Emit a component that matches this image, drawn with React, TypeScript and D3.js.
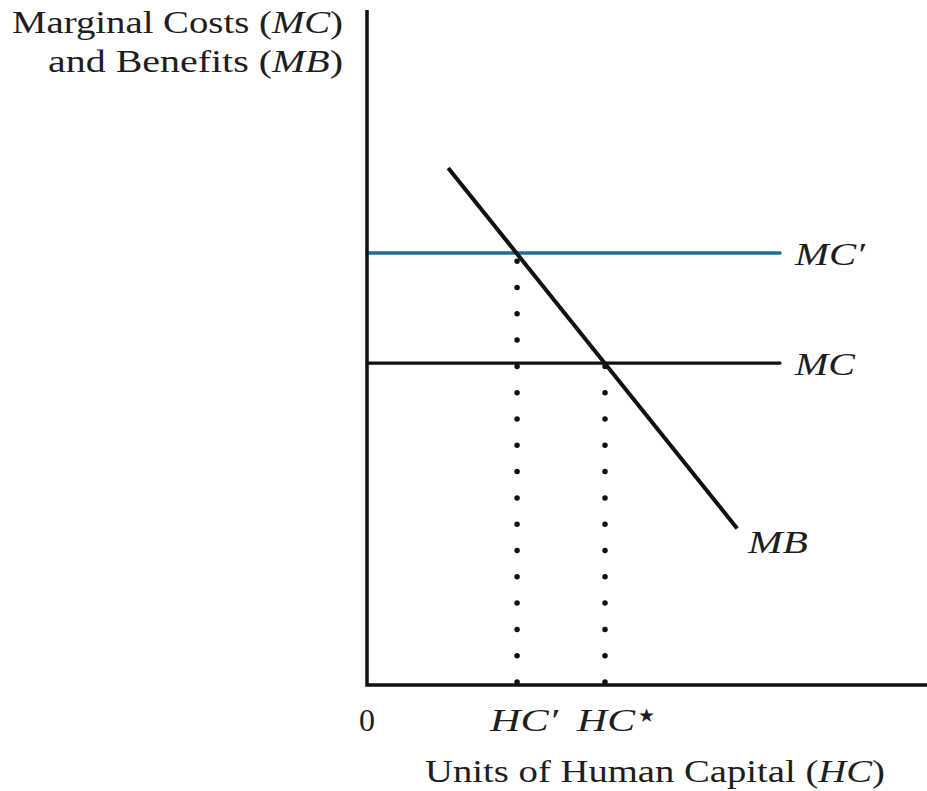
import React from "react";
import * as d3 from "d3";

// Data (arbitrary units, 0..100 on each axis)
const mcPrimeLevel = [64.0];
const mcLevel = [47.7];
const mbPoints = [
  { x: 14.5, y: 76.6 },
  { x: 66.1, y: 23.2 },
];
const hcValues = [26.8, 42.5]; // HC', HC*
const curveEndX = [73.75];
const xTickLabels = ["HC′", "HC"];

const W = 927;
const H = 791;

export default function App() {
  const x = d3.scaleLinear().domain([0, 100]).range([367, 927]);
  const y = d3.scaleLinear().domain([0, 100]).range([685, 10]);
  const line = d3
    .line<{ x: number; y: number }>()
    .x((d) => x(d.x))
    .y((d) => y(d.y));

  const serif = "'Liberation Serif', 'Times New Roman', serif";
  const blue = "#1b6f97";
  const fs = 32;
  const ink = "#1e1e1e";

  const dotted = [
    { x: hcValues[0], top: mcPrimeLevel[0] },
    { x: hcValues[1], top: mcLevel[0] },
  ];

  return (
    <svg
      width={W}
      height={H}
      style={{ position: "absolute", left: 0, top: 0, background: "#fff", display: "block" }}
      fontFamily={serif}
    >
      {/* dotted verticals */}
      {dotted.map((d, i) => (
        <line
          key={i}
          x1={x(d.x)}
          x2={x(d.x)}
          y1={y(0) - 3}
          y2={y(d.top)}
          stroke="#111"
          strokeWidth={5.5}
          strokeLinecap="round"
          strokeDasharray="0 26.3"
        />
      ))}
      {/* MC' */}
      <line
        x1={x(0)}
        x2={x(curveEndX[0])}
        y1={y(mcPrimeLevel[0])}
        y2={y(mcPrimeLevel[0])}
        stroke={blue}
        strokeWidth={3.5}
        strokeLinecap="round"
      />
      {/* MC */}
      <line
        x1={x(0)}
        x2={x(curveEndX[0])}
        y1={y(mcLevel[0])}
        y2={y(mcLevel[0])}
        stroke="#111"
        strokeWidth={3.2}
        strokeLinecap="round"
      />
      {/* MB */}
      <path d={line(mbPoints) || ""} stroke="#111" strokeWidth={4} fill="none" />
      {/* axes */}
      <path
        d={`M${x(0)},${y(100)} L${x(0)},${y(0)} L${x(100)},${y(0)}`}
        stroke="#111"
        strokeWidth={3.5}
        fill="none"
      />

      {/* y axis title */}
      <text x={343} y={33} fontSize={fs} textAnchor="end" fill={ink} textLength={331} lengthAdjust="spacingAndGlyphs">
        Marginal Costs (<tspan fontStyle="italic">MC</tspan>)
      </text>
      <text x={343} y={72} fontSize={fs} textAnchor="end" fill={ink} textLength={295} lengthAdjust="spacingAndGlyphs">
        and Benefits (<tspan fontStyle="italic">MB</tspan>)
      </text>

      {/* curve labels */}
      <text x={795} y={265} fontSize={fs} fontStyle="italic" fill={ink} textLength={70} lengthAdjust="spacingAndGlyphs">
        MC′
      </text>
      <text x={795} y={375} fontSize={fs} fontStyle="italic" fill={ink} textLength={60} lengthAdjust="spacingAndGlyphs">
        MC
      </text>
      <text x={748} y={553} fontSize={fs} fontStyle="italic" fill={ink} textLength={60} lengthAdjust="spacingAndGlyphs">
        MB
      </text>

      {/* x tick labels */}
      <text x={x(0)} y={731} fontSize={fs} textAnchor="middle" fill={ink}>
        0
      </text>
      <text x={490} y={731} fontSize={fs} fontStyle="italic" fill={ink} textLength={68} lengthAdjust="spacingAndGlyphs">
        {xTickLabels[0]}
      </text>
      <text x={577} y={731} fontSize={fs} fontStyle="italic" fill={ink} textLength={58} lengthAdjust="spacingAndGlyphs">
        {xTickLabels[1]}
      </text>
      <text x={638} y={722} fontSize={19} fill={ink} fontFamily="'DejaVu Sans', sans-serif">
        ★
      </text>

      {/* x axis title */}
      <text x={425} y={782} fontSize={fs} fill={ink} textLength={460} lengthAdjust="spacingAndGlyphs">
        Units of Human Capital (<tspan fontStyle="italic">HC</tspan>)
      </text>
    </svg>
  );
}
